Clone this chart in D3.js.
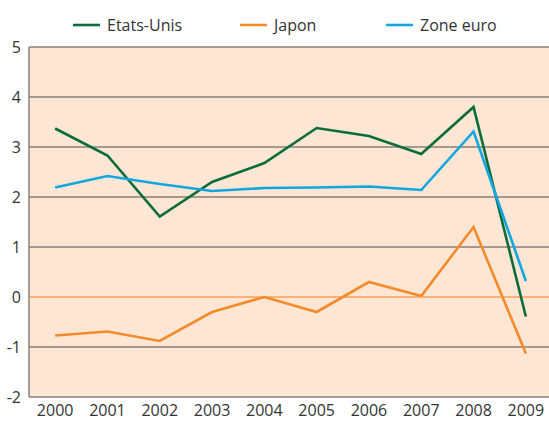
<!DOCTYPE html>
<html><head><meta charset="utf-8">
<script src="https://cdn.jsdelivr.net/npm/d3@7"></script>
<style>body{margin:0;background:#fff}svg{display:block}text{font-family:"Open Sans",sans-serif}</style>
</head><body>
<svg id="c" width="549" height="423"></svg>
<script>
const years = ["2000","2001","2002","2003","2004","2005","2006","2007","2008","2009"];
const etatsUnis = [3.37, 2.83, 1.61, 2.3, 2.68, 3.38, 3.22, 2.86, 3.8, -0.39];
const japon = [-0.77, -0.69, -0.88, -0.3, 0, -0.3, 0.3, 0.02, 1.4, -1.13];
const zoneEuro = [2.19, 2.42, 2.26, 2.12, 2.18, 2.19, 2.21, 2.14, 3.31, 0.32];
const yTicks = [-2, -1, 0, 1, 2, 3, 4, 5];
const seriesNames = ["Etats-Unis", "Japon", "Zone euro"];
const colors = ["#0b6b3a", "#f58a2a", "#12a6e0"];

const svg = d3.select("#c");
const pL = 29, pR = 552, pT = 47, pB = 397;
const x = d3.scaleBand().domain(years).range([pL, pR]);
const y = d3.scaleLinear().domain([-2, 5]).range([pB, pT]);

svg.append("rect").attr("x", pL).attr("y", pT).attr("width", pR - pL).attr("height", pB - pT).attr("fill", "#fde6d4");

// gridlines
svg.append("g").selectAll("line").data(yTicks.filter(d => d !== 0)).join("line")
  .attr("x1", pL).attr("x2", pR).attr("y1", d => y(d)).attr("y2", d => y(d))
  .attr("stroke", "#8a7f78").attr("stroke-width", 1.5);
svg.append("line").attr("x1", pL).attr("x2", pR).attr("y1", y(0)).attr("y2", y(0))
  .attr("stroke", "#f7a05a").attr("stroke-width", 1.5);
svg.append("line").attr("x1", pL).attr("x2", pL).attr("y1", pT).attr("y2", pB)
  .attr("stroke", "#8a7f78").attr("stroke-width", 1.5);

// axes
const yAxis = d3.axisLeft(y).tickValues(yTicks).tickSize(0).tickPadding(8).tickFormat(d => String(d));
const gy = svg.append("g").attr("transform", `translate(${pL},0)`).call(yAxis);
gy.select(".domain").remove();
gy.selectAll("text").attr("font-size", 16).attr("fill", "#333");

const xAxis = d3.axisBottom(x).tickSize(0).tickPadding(8);
const gx = svg.append("g").attr("transform", `translate(0,${pB})`).call(xAxis);
gx.select(".domain").remove();
gx.selectAll("text").attr("font-size", 16).attr("fill", "#333");

// lines
const line = d3.line().x((d, i) => x(years[i]) + x.bandwidth() / 2).y(d => y(d));
[etatsUnis, japon, zoneEuro].forEach((s, i) => {
  svg.append("path").datum(s).attr("d", line).attr("fill", "none")
    .attr("stroke", colors[i]).attr("stroke-width", 2.6).attr("stroke-linejoin", "miter");
});

// legend
const legX = [73, 240, 386];
seriesNames.forEach((n, i) => {
  svg.append("line").attr("x1", legX[i]).attr("x2", legX[i] + 27).attr("y1", 25).attr("y2", 25)
    .attr("stroke", colors[i]).attr("stroke-width", 2.6);
  svg.append("text").attr("x", legX[i] + 34).attr("y", 31).attr("font-size", 16).attr("fill", "#333").text(n);
});
</script>
</body></html>
